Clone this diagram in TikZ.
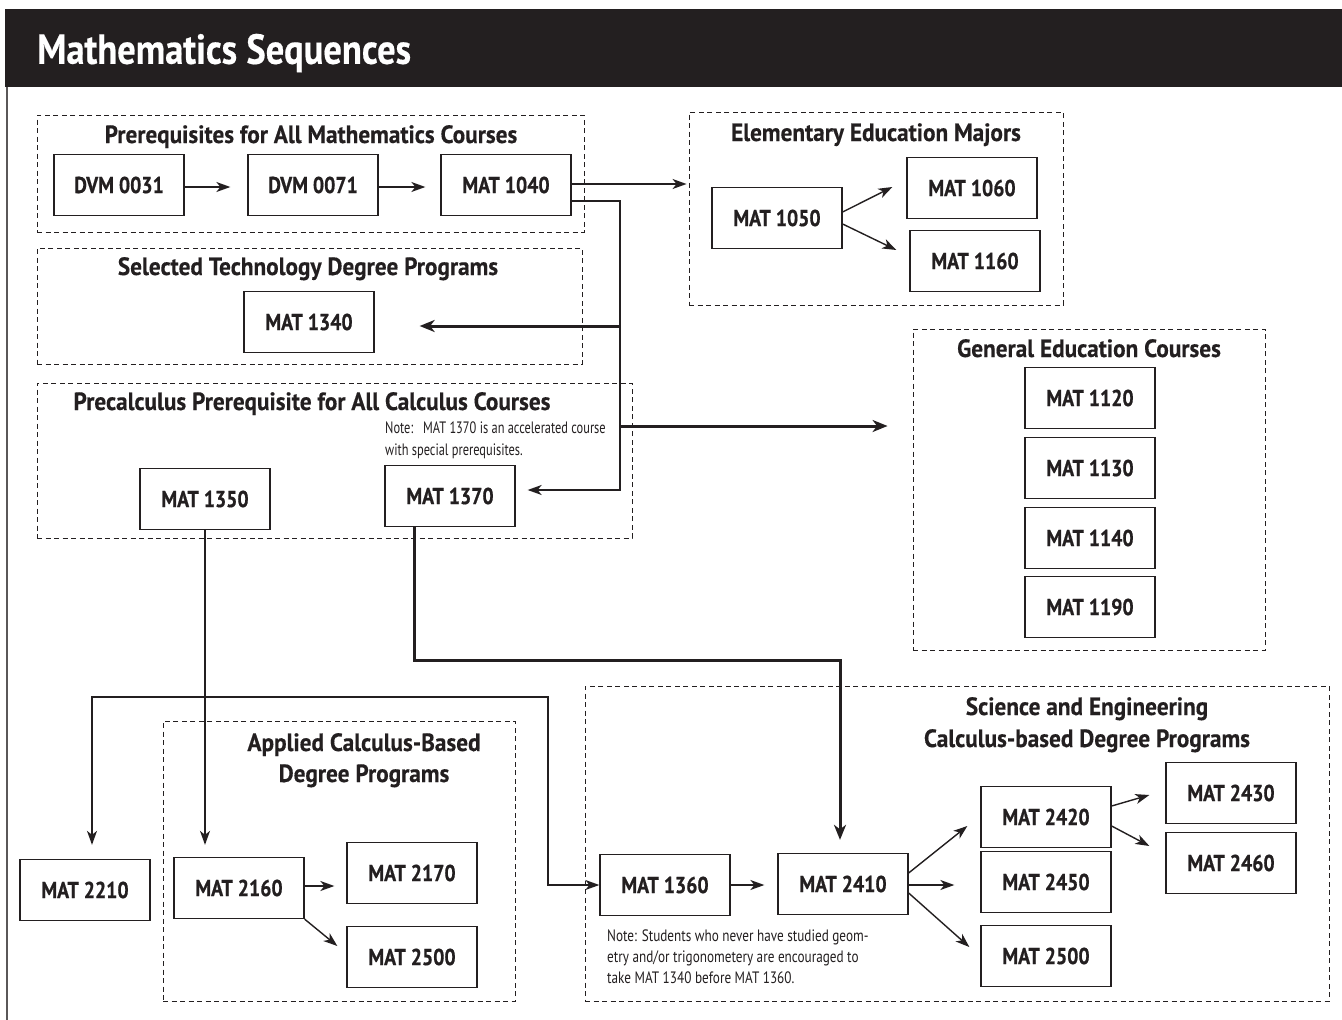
\documentclass[tikz,border=0pt]{standalone}
\usepackage{fontspec}
\usetikzlibrary{arrows.meta,calc,fit}
\newfontfamily\hdfont{PT Sans}[FakeStretch=0.87,FakeBold=0.4]
\newfontfamily\ttlfont{PT Sans}[FakeStretch=0.93,FakeBold=0.3]
\newfontfamily\boxfnt{PT Sans}[FakeStretch=0.86,FakeBold=0.6]
\newfontfamily\notefnt{PT Sans}[FakeStretch=0.8]
\newfontfamily\notenarrow{PT Sans}[FakeStretch=0.75]
\definecolor{ink}{HTML}{231F20}
\tikzset{
 course/.style={draw=ink, line width=1.3pt, minimum width=130pt, minimum height=61pt, inner sep=0pt, font=\boxfnt\bfseries\fontsize{23}{26}\selectfont, text=ink},
 grp/.style={draw=ink, line width=0.9pt, dash pattern=on 5pt off 3.5pt, inner sep=0pt},
 gtitle/.style={font=\ttlfont\bfseries\fontsize{25}{28}\selectfont, text=ink, inner sep=0pt, anchor=base},
 notetxt/.style={font=\notefnt\fontsize{16.5}{21.5}\selectfont, text=ink, inner sep=0pt, anchor=base west},
 notenar/.style={font=\notenarrow\fontsize{16.5}{21.5}\selectfont, text=ink, inner sep=0pt, anchor=base west},
 lnk/.style={draw=ink, line width=1.4pt},
 tlnk/.style={draw=ink, line width=3pt},
 arr/.style={lnk, -{Stealth[length=14pt,width=10pt,inset=4pt]}},
 tarr/.style={tlnk, -{Stealth[length=15pt,width=12pt,inset=4.5pt]}},
}
\begin{document}
\begin{tikzpicture}[x=1pt,y=-1pt]
\useasboundingbox (0,0) rectangle (1342,1020);
\fill[white] (0,0) rectangle (1342,1020);
% header
\fill[ink] (5,9) rectangle (1342,87);
\node[anchor=west, inner sep=0pt, text=white, font=\hdfont\bfseries\fontsize{42}{46}\selectfont] (htitle) at (37,53) {Mathematics Sequences};
\draw[ink!75, line width=1.5pt] (7,87) -- (7,1020);

% groups
\node[grp, fit={(37,115)(584,232)}] (g1) {};
\node[grp, fit={(37,248)(582,364)}] (g2) {};
\node[grp, fit={(37,383)(632,538)}] (g3) {};
\node[grp, fit={(689,112)(1063,305)}] (g4) {};
\node[grp, fit={(913,329)(1265,650)}] (g5) {};
\node[grp, fit={(163,721)(515,1001)}] (g6) {};
\node[grp, fit={(585,686)(1329,1001)}] (g7) {};

\node[gtitle] (t1) at (311,143) {Prerequisites for All Mathematics Courses};
\node[gtitle] (t2) at (308,275) {Selected Technology Degree Programs};
\node[gtitle] (t3) at (312,410) {Precalculus Prerequisite for All Calculus Courses};
\node[gtitle] (t4) at (876,141) {Elementary Education Majors};
\node[gtitle] (t5) at (1089,357) {General Education Courses};
\node[gtitle] (t6a) at (364,751) {Applied Calculus-Based};
\node[gtitle] (t6b) at (364,782) {Degree Programs};
\node[gtitle] (t7a) at (1087,715) {Science and Engineering};
\node[gtitle] (t7b) at (1087,747) {Calculus-based Degree Programs};

% notes
\node[notenar] (n1a) at (385,433) {Note:\ \ \ MAT 1370 is an accelerated course};
\node[notenar] (n1b) at (385,455) {with special prerequisites.};
\node[notetxt] (n2a) at (607,941) {Note: Students who never have studied geom-};
\node[notetxt] (n2b) at (607,962) {etry and/or trigonometery are encouraged to};
\node[notetxt] (n2c) at (607,983) {take MAT 1340 before MAT 1360.};

% courses
\node[course] (dvm31) at (119,185) {DVM 0031};
\node[course] (dvm71) at (313,185) {DVM 0071};
\node[course] (m1040) at (506,185) {MAT 1040};
\node[course] (m1340) at (309,322) {MAT 1340};
\node[course] (m1350) at (205,499) {MAT 1350};
\node[course] (m1370) at (450,496) {MAT 1370};
\node[course] (m1050) at (777,218) {MAT 1050};
\node[course] (m1060) at (972,188) {MAT 1060};
\node[course] (m1160) at (975,261) {MAT 1160};
\node[course] (m1120) at (1090,398) {MAT 1120};
\node[course] (m1130) at (1090,468) {MAT 1130};
\node[course] (m1140) at (1090,538) {MAT 1140};
\node[course] (m1190) at (1090,607) {MAT 1190};
\node[course] (m2210) at (85,890) {MAT 2210};
\node[course] (m2160) at (239,888) {MAT 2160};
\node[course] (m2170) at (412,873) {MAT 2170};
\node[course] (m2500a) at (412,957) {MAT 2500};
\node[course] (m1360) at (665,885) {MAT 1360};
\node[course] (m2410) at (843,884) {MAT 2410};
\node[course] (m2420) at (1046,817) {MAT 2420};
\node[course] (m2450) at (1046,882) {MAT 2450};
\node[course] (m2500b) at (1046,956) {MAT 2500};
\node[course] (m2430) at (1231,793) {MAT 2430};
\node[course] (m2460) at (1231,863) {MAT 2460};

% junctions
\coordinate (jb) at (620,490);
\coordinate (j1340) at (620,326);
\coordinate (jge) at (620,426);
\coordinate (k2) at (840,660);
\coordinate (b0) at (205,697);
\coordinate (bl) at (92,697);
\coordinate (br) at (548,697);

% connectors
\draw[arr] ($(dvm31.east)+(0,2)$) -- ($(dvm71.west)+(-17,2)$);
\draw[arr] ($(dvm71.east)+(0,2)$) -- ($(m1040.west)+(-15,2)$);
\draw[arr] ($(m1040.east)+(0,-1)$) coordinate (s1) -- ($(s1 -| g4.west)+(-2,0)$);
\draw[arr] ($(m1040.east)+(0,16)$) -| (jb) -- ($(m1370.east)+(12,-6)$);
\draw[tarr] (j1340) -- ($(m1340.east)+(45,4)$);
\draw[tarr] (jge) -- ($(jge -| g5.west)+(-25,0)$);
\draw[tarr] ($(m1370.south)+(-36,0)$) |- (k2) -- ($(m2410.north)+(-3,-13)$);
\draw[arr] (m1350.south) -- ($(m2160.north)+(-34,-12)$);
\draw[arr] (b0) -- (bl) -- ($(m2210.north)+(7,-14)$);
\draw[arr] (b0) -- (br) |- (m1360.west);

\draw[arr] ($(m1050.east)+(0,-6)$) -- ($(m1060.west)+(-14,-1)$);
\draw[arr] ($(m1050.east)+(0,6)$) -- ($(m1160.west)+(-13,-11)$);

\draw[arr] ($(m2160.east)+(0,-2)$) -- ($(m2170.west)+(-12,13)$);
\draw[arr] (m2160.south east) -- ($(m2500a.west)+(-9,-11)$);

\draw[arr] (m1360.east) -- ($(m2410.west)+(-13,1)$);
\draw[arr] ($(m2410.east)+(0,-11)$) -- ($(m2420.west)+(-13,9)$);
\draw[arr] ($(m2410.east)+(0,1)$) -- ($(m2450.west)+(-26,3)$);
\draw[arr] ($(m2410.east)+(0,9)$) -- ($(m2500b.west)+(-11,-9)$);
\draw[arr] ($(m2420.east)+(0,-11)$) -- ($(m2430.west)+(-16,2)$);
\draw[arr] ($(m2420.east)+(0,9)$) -- ($(m2460.west)+(-16,-17)$);
\end{tikzpicture}
\end{document}
